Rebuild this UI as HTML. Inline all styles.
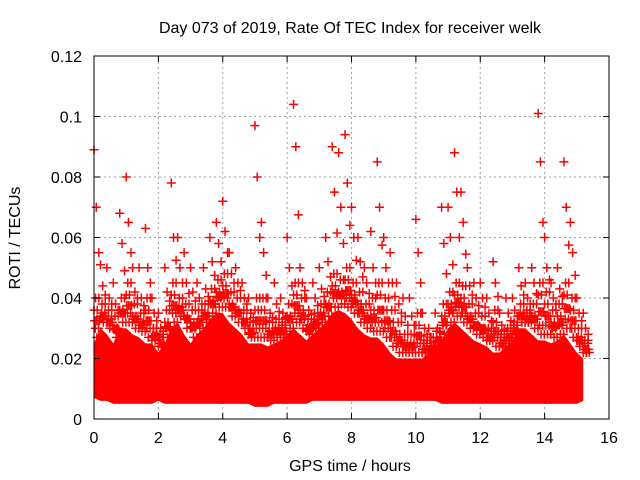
<!DOCTYPE html>
<html><head><meta charset="utf-8"><style>
body{margin:0;background:#fff;}
svg{display:block;font-family:"Liberation Sans",sans-serif;}
</style></head><body>
<svg id="chart" width="640" height="480">
<text x="350" y="33" font-size="16" text-anchor="middle">Day 073 of 2019, Rate Of TEC Index for receiver welk</text>
<text x="20" y="238" font-size="16" text-anchor="middle" transform="rotate(-90 20 238)">ROTI / TECUs</text>
<text x="350" y="471" font-size="16" text-anchor="middle">GPS time / hours</text>
<g id="grid"></g>
<g id="marks"></g>
<rect x="94" y="56" width="515" height="363" fill="none" stroke="#000" stroke-width="1"/>
<g id="ticks"></g>
</svg>
<script>
const xTicks=[0,2,4,6,8,10,12,14,16];
const yTicks=[0,0.02,0.04,0.06,0.08,0.1,0.12];
const yTickLabels=["0","0.02","0.04","0.06","0.08","0.1","0.12"];
const times=[0,0.2,0.4,0.6,0.8,1.0,1.2,1.4,1.6,1.8,2.0,2.2,2.4,2.6,2.8,3.0,3.2,3.4,3.6,3.8,4.0,4.2,4.4,4.6,4.8,5.0,5.2,5.4,5.6,5.8,6.0,6.2,6.4,6.6,6.8,7.0,7.2,7.4,7.6,7.8,8.0,8.2,8.4,8.6,8.8,9.0,9.2,9.4,9.6,9.8,10.0,10.2,10.4,10.6,10.8,11.0,11.2,11.4,11.6,11.8,12.0,12.2,12.4,12.6,12.8,13.0,13.2,13.4,13.6,13.8,14.0,14.2,14.4,14.6,14.8,15.0,15.2];
const peakRoti=[0.089,0.051,0.05,0.045,0.068,0.08,0.05,0.05,0.063,0.04,0.035,0.05,0.078,0.06,0.055,0.05,0.045,0.05,0.06,0.065,0.072,0.055,0.05,0.045,0.04,0.097,0.065,0.04,0.045,0.04,0.06,0.104,0.05,0.04,0.045,0.05,0.06,0.09,0.088,0.094,0.07,0.06,0.05,0.062,0.085,0.06,0.055,0.045,0.04,0.04,0.066,0.035,0.03,0.035,0.07,0.07,0.088,0.075,0.05,0.045,0.045,0.04,0.052,0.035,0.04,0.04,0.05,0.045,0.05,0.101,0.06,0.045,0.05,0.085,0.065,0.04,0.035];
const upperRoti=[0.07,0.044,0.04,0.038,0.058,0.065,0.042,0.04,0.05,0.035,0.03,0.042,0.06,0.05,0.045,0.042,0.04,0.043,0.052,0.058,0.062,0.048,0.045,0.04,0.035,0.08,0.055,0.035,0.038,0.035,0.05,0.09,0.045,0.036,0.04,0.043,0.052,0.075,0.07,0.078,0.06,0.052,0.045,0.05,0.07,0.05,0.045,0.038,0.034,0.034,0.055,0.03,0.027,0.03,0.058,0.06,0.075,0.065,0.044,0.04,0.04,0.035,0.045,0.031,0.035,0.036,0.044,0.04,0.045,0.085,0.05,0.04,0.043,0.07,0.055,0.035,0.03];
const midRoti=[0.04,0.038,0.036,0.034,0.04,0.045,0.038,0.035,0.04,0.03,0.028,0.036,0.045,0.04,0.038,0.036,0.036,0.038,0.043,0.046,0.048,0.042,0.04,0.036,0.032,0.04,0.04,0.032,0.033,0.032,0.038,0.045,0.04,0.033,0.035,0.038,0.042,0.048,0.046,0.05,0.045,0.042,0.038,0.04,0.045,0.04,0.036,0.032,0.028,0.028,0.035,0.026,0.024,0.027,0.038,0.042,0.045,0.044,0.038,0.035,0.034,0.03,0.036,0.028,0.03,0.032,0.038,0.036,0.038,0.045,0.042,0.036,0.038,0.045,0.04,0.03,0.026];
const bandHigh=[0.025,0.03,0.028,0.025,0.03,0.03,0.028,0.027,0.025,0.025,0.022,0.025,0.03,0.032,0.028,0.025,0.028,0.03,0.033,0.035,0.035,0.032,0.03,0.028,0.025,0.025,0.025,0.024,0.025,0.026,0.028,0.03,0.028,0.026,0.028,0.03,0.032,0.035,0.036,0.035,0.033,0.03,0.028,0.027,0.027,0.025,0.022,0.02,0.02,0.02,0.02,0.02,0.022,0.024,0.026,0.03,0.032,0.03,0.028,0.026,0.025,0.024,0.022,0.022,0.024,0.026,0.03,0.03,0.028,0.026,0.026,0.025,0.026,0.028,0.025,0.022,0.02];
const bandLow=[0.007,0.006,0.006,0.005,0.005,0.005,0.005,0.005,0.005,0.005,0.006,0.005,0.005,0.005,0.005,0.005,0.005,0.005,0.005,0.005,0.005,0.005,0.005,0.005,0.005,0.004,0.004,0.004,0.005,0.005,0.005,0.005,0.005,0.005,0.006,0.006,0.006,0.006,0.006,0.006,0.006,0.006,0.006,0.006,0.006,0.006,0.006,0.006,0.006,0.006,0.006,0.006,0.006,0.006,0.005,0.005,0.005,0.005,0.005,0.005,0.005,0.005,0.005,0.005,0.005,0.005,0.005,0.005,0.005,0.005,0.005,0.005,0.005,0.005,0.005,0.005,0.006];

const X0=94,X1=609,Y0=419,Y1=56;
const xs=v=>X0+(v-0)/(16-0)*(X1-X0);
const ys=v=>Y0-(v-0)/(0.12-0)*(Y0-Y1);
const NS='http://www.w3.org/2000/svg';
const gridG=document.getElementById('grid'),ticksG=document.getElementById('ticks'),marksG=document.getElementById('marks');
function mk(tag,attrs,parent){const e=document.createElementNS(NS,tag);for(const k in attrs)e.setAttribute(k,attrs[k]);parent.appendChild(e);return e;}
xTicks.forEach((t,i)=>{
  const x=xs(t);
  if(i>0&&i<xTicks.length-1){const g=mk('line',{x1:x,x2:x,y1:Y0,y2:Y1,stroke:'#a0a0a0','stroke-dasharray':'2,3'},gridG);
  
  }
  const tk=mk('path',{d:`M${x},${Y0}v-6M${x},${Y1}v6`,stroke:'#000'},ticksG);
  
  
  const lb=mk('text',{x:x,y:Y0+24,'font-size':16,'text-anchor':'middle'},ticksG);lb.textContent=t;
  
  
});
yTicks.forEach((t,i)=>{
  const y=ys(t);
  if(i>0&&i<yTicks.length-1){const g=mk('line',{x1:X0,x2:X1,y1:y,y2:y,stroke:'#a0a0a0','stroke-dasharray':'2,3'},gridG);
  
  }
  const tk=mk('path',{d:`M${X0},${y}h6M${X1},${y}h-6`,stroke:'#000'},ticksG);
  
  
  const lb=mk('text',{x:X0-12,y:y+6,'font-size':16,'text-anchor':'end'},ticksG);lb.textContent=yTickLabels[i];
  
  
});
const bandTop=times.map((t,i)=>`${xs(t)},${ys(bandHigh[i])}`);
const bandBot=times.map((t,i)=>`${xs(t)},${ys(bandLow[i])}`).reverse();
const band=mk('polygon',{points:bandTop.concat(bandBot).join(' '),fill:'#ff0000'},marksG);


function plus(t,v,name){
  const x=xs(t),y=ys(v);
  const p=mk('path',{d:`M${x-4.5},${y}h9M${x},${y-4.5}v9`,stroke:'#ff0000','stroke-width':1.5},marksG);
  
  
}
const offsets=[0,0.05,0.1,0.15];
times.forEach((t,i)=>{
  plus(t,peakRoti[i],'roti-peak-point');
  plus(t+0.07,upperRoti[i],'roti-upper-point');
  plus(t+0.15,(upperRoti[i]+midRoti[i])/2,'roti-upper-point');
  offsets.forEach((o,k)=>{
    plus(t+o,k%2?midRoti[i]:midRoti[i]-0.004,'roti-mid-point');
    plus(t+o+0.02,(midRoti[i]+bandHigh[i])/2,'roti-mid-point');
    plus(t+o+0.04,bandHigh[i]+(k%2?0.002:0.005),'roti-band-point');
  });
});
</script>
</body></html>
